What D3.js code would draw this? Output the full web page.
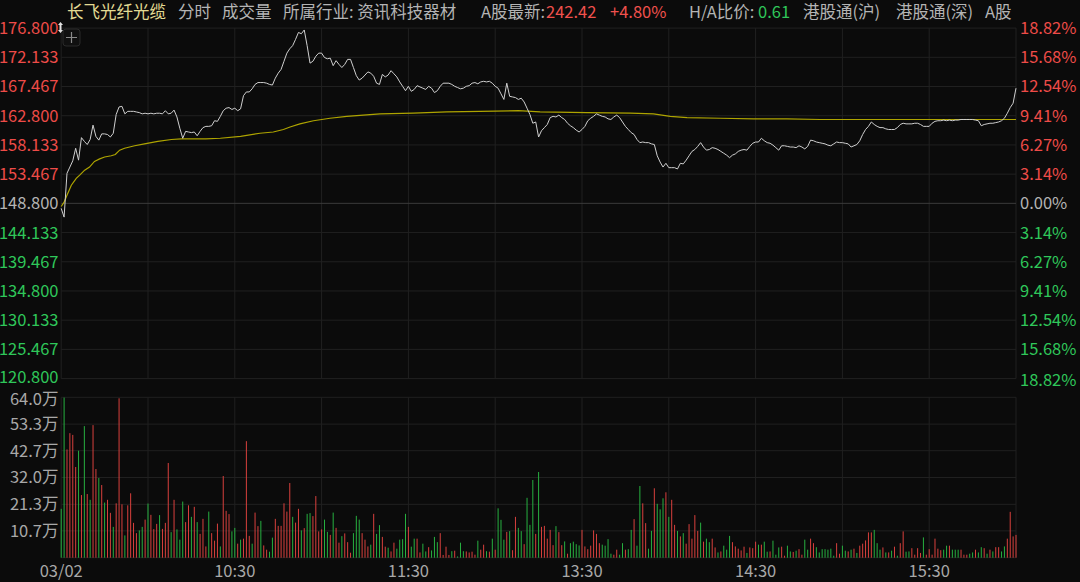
<!DOCTYPE html>
<html><head><meta charset="utf-8">
<script src="https://cdn.jsdelivr.net/npm/d3@7"></script>
<style>
html,body{margin:0;padding:0;background:#0b0b0b;}
svg{display:block;}
text{font-family:"Noto Sans CJK SC","Noto Sans",sans-serif;}
</style></head><body>
<svg id="chart" width="1080" height="582"></svg>
<script>
// ---------- data ----------
const prevClose = 148.8;
const priceTicks = [176.8,172.133,167.467,162.8,158.133,153.467,148.8,144.133,139.467,134.8,130.133,125.467,120.8];
const priceTickLabels = ["176.800","172.133","167.467","162.800","158.133","153.467","148.800","144.133","139.467","134.800","130.133","125.467","120.800"];
const pctTickLabels = ["18.82%","15.68%","12.54%","9.41%","6.27%","3.14%","0.00%","3.14%","6.27%","9.41%","12.54%","15.68%","18.82%"];
const volTicks = [64.0,53.3,42.7,32.0,21.3,10.7];
const volTickLabels = ["64.0万","53.3万","42.7万","32.0万","21.3万","10.7万"];
const timeTickMinutes = [0,60,120,180,240,300];
const timeTickLabels = ["03/02","10:30","11:30","13:30","14:30","15:30"];

// minute-by-minute price (331 points, 9:30-12:00, 13:00-16:00)
const prices = [
148.0,146.6,153.6,154.6,155.6,157.6,155.7,159.3,158.7,158.2,
159.0,161.3,159.5,158.9,159.9,159.9,159.8,159.4,160.0,163.0,
164.2,164.3,163.1,163.5,163.5,163.5,163.4,163.3,163.1,163.2,
163.1,163.2,163.1,163.2,163.2,163.1,163.6,163.1,163.2,163.7,
162.6,160.8,159.2,160.3,160.2,160.1,160.2,159.6,160.3,160.9,
161.1,161.1,161.2,162.0,161.9,162.7,163.6,164.0,164.1,163.8,
164.0,163.6,163.9,166.0,166.6,166.6,167.1,167.8,168.1,168.1,
168.1,168.0,167.8,167.7,168.8,169.6,170.2,171.5,172.8,173.5,
174.0,175.0,176.1,175.9,176.5,174.0,171.2,171.5,172.3,172.8,
172.8,172.1,171.9,172.0,170.8,171.6,171.0,170.5,171.0,171.8,
171.8,170.5,169.2,168.5,168.8,169.3,169.8,169.6,169.1,168.0,
167.8,169.4,169.0,169.3,170.0,169.5,169.0,168.2,167.5,166.8,
167.5,166.7,167.0,167.6,167.4,167.2,167.0,167.5,167.2,166.5,
166.8,167.5,168.0,168.0,168.0,167.8,167.5,167.3,167.1,167.2,
167.5,167.6,168.0,168.1,167.9,168.2,168.3,168.2,168.3,168.0,
167.5,167.2,166.3,165.4,168.0,165.9,165.8,165.7,165.4,165.6,
165.0,164.0,163.0,161.6,161.8,159.4,160.4,160.9,161.4,162.5,
162.7,162.6,162.9,162.5,162.2,161.6,161.2,160.9,160.5,160.2,
160.6,161.1,162.0,162.4,162.7,163.1,162.9,162.7,162.6,162.3,
162.2,162.6,162.9,162.5,161.8,161.1,160.6,160.1,159.8,159.0,
158.5,158.6,158.5,158.5,158.3,158.2,156.4,155.4,154.6,155.2,
154.5,154.5,154.5,154.3,155.2,155.1,155.7,156.4,157.1,157.4,
157.9,158.5,157.8,157.3,157.4,157.7,157.6,157.4,157.1,156.8,
156.5,156.1,156.5,156.7,157.1,157.3,157.4,157.3,157.9,158.4,
158.6,158.6,159.2,158.8,158.5,158.4,158.1,157.7,157.3,158.0,
158.0,157.9,157.8,157.8,157.7,158.0,157.8,157.5,157.9,158.9,
158.8,158.6,158.5,158.4,158.3,158.1,158.0,158.3,158.6,158.5,
158.5,158.4,158.3,157.8,158.0,158.2,158.8,159.8,160.6,161.1,
161.8,161.4,161.1,160.9,160.9,160.7,160.6,160.6,160.6,160.9,
161.4,161.6,161.5,161.5,161.5,161.6,161.6,161.4,161.1,161.1,
161.1,161.6,161.9,162.0,162.0,162.1,162.0,162.1,162.0,162.1,
162.1,162.2,162.2,162.2,162.2,162.2,162.1,162.0,161.2,161.4,
161.5,161.6,161.6,161.7,161.8,162.0,162.4,163.2,164.1,164.8,
167.2];

// average price line, read at these minutes
const avgMinutes = [0,1,2,3.5,5.2,6.4,8.1,9.8,11.5,13.3,15,17.3,18.7,20.2,21.9,25.4,28.8,33.4,38.1,41.5,50,55,62,68.7,73.3,76.8,79.1,82.5,87.2,92.9,98.7,104.4,110.2,121.7,133.3,144.8,158,165.5,181.7,196.7,204.7,210.5,216.3,227.8,239.3,250.8,262.3,330];
const avgValues  = [148.3,149.0,150.1,151.7,152.8,153.3,154.1,154.6,155.5,155.9,156.2,156.4,156.6,157.3,157.6,158.0,158.3,158.7,159.0,159.1,159.1,159.2,159.5,160.0,160.2,160.6,161.0,161.5,162.0,162.4,162.7,162.9,163.1,163.2,163.4,163.5,163.6,163.4,163.3,163.2,163.1,162.7,162.5,162.4,162.3,162.3,162.2,162.2];

// volume per minute, in 万
const volumes = [
19.5,63.9,43.2,49.7,49.0,36.2,42.7,25.0,52.5,25.4,
23.1,52.9,35.4,31.8,29.0,22.0,23.1,17.9,12.3,21.7,
63.6,21.3,8.9,20.9,25.7,13.9,9.8,10.9,12.3,15.2,
21.6,17.1,11.4,13.5,17.0,11.5,13.9,37.8,10.2,23.1,
11.3,7.2,22.4,14.2,20.9,16.3,20.3,14.2,9.5,15.5,
4.5,18.4,9.8,6.8,13.6,4.5,32.6,18.7,17.4,10.5,
11.9,5.6,7.2,7.6,46.5,8.7,5.6,18.0,12.6,14.7,
4.9,3.2,2.4,8.0,15.5,12.7,12.7,21.7,18.4,29.8,
16.3,14.0,19.5,10.9,11.8,17.5,17.8,16.6,24.6,10.5,
11.3,15.2,10.3,9.1,18.0,11.9,6.0,8.6,9.7,6.2,
2.0,9.8,16.7,15.2,9.8,7.2,4.5,5.2,17.5,9.5,
13.0,8.3,4.4,4.0,2.5,6.0,3.6,7.2,7.4,17.5,
12.3,4.4,7.6,7.6,2.1,5.6,2.5,4.2,2.9,8.3,
6.2,9.8,1.1,4.4,1.1,2.6,2.8,0.5,6.0,2.6,
2.5,2.1,2.4,1.2,6.8,3.2,5.2,2.6,2.4,7.6,
3.2,19.7,15.1,7.2,10.3,10.6,3.0,16.3,11.9,10.6,
5.4,23.9,13.1,31.0,9.5,34.2,12.3,12.7,7.6,11.1,
5.0,12.6,10.2,5.0,6.5,1.6,5.8,6.4,5.4,4.9,
11.1,4.5,3.4,4.8,10.9,9.5,5.8,5.2,4.8,7.4,
1.6,1.2,3.2,1.2,5.8,3.2,3.4,11.1,15.4,4.8,
28.6,21.7,13.8,3.6,10.7,27.7,21.5,19.3,23.7,26.1,
16.3,23.1,13.1,10.7,8.5,9.8,5.6,13.4,7.6,17.0,
10.7,14.0,6.4,7.6,6.2,7.6,4.1,2.1,2.5,4.8,
3.2,8.7,6.2,4.5,3.6,2.9,4.4,1.9,4.1,3.8,
6.4,5.2,5.2,6.4,2.4,2.5,6.8,1.2,4.1,4.4,
0.8,4.8,2.5,2.3,2.8,3.4,1.2,7.2,3.2,7.6,
5.8,4.2,2.1,3.4,3.4,3.2,3.6,0.8,5.8,1.6,
4.8,2.8,2.5,3.2,3.6,1.9,4.8,5.6,6.9,10.1,
10.1,11.1,5.8,3.2,4.1,2.1,2.1,2.8,4.4,0.8,
5.8,10.5,2.4,2.5,3.8,1.2,3.8,1.9,8.1,1.2,
3.4,1.2,7.6,3.6,3.0,3.2,4.8,4.8,3.2,3.2,
3.2,3.2,1.2,1.2,1.6,2.1,3.2,2.1,4.2,3.8,
1.6,3.2,2.5,4.2,4.2,2.5,4.5,7.6,18.3,8.5,
9.1];
// R = up (red), G = down (green)
const volDirections = (
"GGRRRRGRGR"+"GRRGRGRRGR"+"RRGRRRRGGR"+"GRRRGRRRGR"+"GGGRRGRGRR"+
"RGRRRGRRRG"+"GRGRRRGRRG"+"RRGGRRRRRR"+"GRRGRGGRRR"+"RGGRGRRGRR"+
"RGGGRRRGRG"+"GRRGRRGGGG"+"RGGRRGGRGG"+"GRRRRGRGGG"+"RRRRGRRGRG"+
"RGGGRGRRGG"+"RGGGRGRRRR"+"RGRRGRGGGG"+"RRRRRRRGGG"+"GRRGGRGGRG"+
"GRRGGRGGGR"+"GRRGRGRRRR"+"RGRGGRRGRG"+"GGRRRRRGRR"+"RGRGGRGGGR"+
"RGGRGRRGGR"+"RGGGGGGGRR"+"GGRGRGRRRR"+"RGGGRGRGRG"+"RRGGRRRRGR"+
"RRRRRGGRGG"+"GRRRGGRGGR"+"GRGRRGGRRR"+"R").split("");

// header
const headerItems = [
  {t:"长飞光纤光缆", x:67, c:"#e3db93"},
  {t:"分时", x:178, c:"#b4b4b4"},
  {t:"成交量", x:222, c:"#b4b4b4"},
  {t:"所属行业: 资讯科技器材", x:283, c:"#b4b4b4"},
  {t:"A股最新:", x:481, c:"#b4b4b4"},
  {t:"242.42", x:546, c:"#f0514d"},
  {t:"+4.80%", x:610, c:"#f0514d"},
  {t:"H/A比价:", x:689, c:"#b4b4b4"},
  {t:"0.61", x:758, c:"#2fc75a"},
  {t:"港股通(沪)", x:803, c:"#b4b4b4"},
  {t:"港股通(深)", x:896, c:"#b4b4b4"},
  {t:"A股", x:985, c:"#b4b4b4"}
];

// ---------- drawing ----------
const RED = "#ee4b48", GREEN = "#2fc75a", GRAY = "#b4b4b4";
const FS = 16.5;
const svg = d3.select("#chart");
svg.append("rect").attr("width",1080).attr("height",582).attr("fill","#0b0b0b");

const x = d3.scaleLinear().domain([0,330]).range([61.2,1016.0]);
const yP = d3.scaleLinear().domain([120.8,176.8]).range([378.6,28.1]);
const yV = d3.scaleLinear().domain([0,64]).range([557.7,397.3]);

const grid = svg.append("g");
const vlines = d3.range(0,331,30);
grid.selectAll("line.vp").data(vlines).join("line")
  .attr("x1",d=>x(d)).attr("x2",d=>x(d)).attr("y1",yP(176.8)).attr("y2",yP(120.8))
  .attr("stroke","#202020").attr("stroke-width",1);
grid.selectAll("line.vv").data(vlines).join("line")
  .attr("x1",d=>x(d)).attr("x2",d=>x(d)).attr("y1",yV(64)).attr("y2",yV(0))
  .attr("stroke","#202020").attr("stroke-width",1);
grid.selectAll("line.hp").data(priceTicks).join("line")
  .attr("x1",x(0)).attr("x2",x(330)).attr("y1",d=>yP(d)).attr("y2",d=>yP(d))
  .attr("stroke",d=>d===prevClose?"#3a3a3a":"#202020").attr("stroke-width",1);
grid.selectAll("line.hv").data(volTicks.concat([0])).join("line")
  .attr("x1",x(0)).attr("x2",x(330)).attr("y1",d=>yV(d)).attr("y2",d=>yV(d))
  .attr("stroke","#202020").attr("stroke-width",1);

const colorFor = d=>d>prevClose+0.001?RED:(d<prevClose-0.001?GREEN:GRAY);
// left price labels
svg.append("g").selectAll("text").data(priceTicks).join("text")
  .attr("x",58.5).attr("y",(d,i)=>yP(d)+(i===priceTicks.length-1?-2:0)).attr("dy","0.36em").attr("text-anchor","end")
  .attr("font-size",FS).attr("fill",colorFor)
  .text((d,i)=>priceTickLabels[i]);
// right pct labels
svg.append("g").selectAll("text").data(priceTicks).join("text")
  .attr("x",1020).attr("y",(d,i)=>yP(d)+(i===priceTicks.length-1?1:0)).attr("dy","0.36em").attr("text-anchor","start")
  .attr("font-size",FS).attr("fill",colorFor)
  .text((d,i)=>pctTickLabels[i]);
// volume labels
svg.append("g").selectAll("text").data(volTicks).join("text")
  .attr("x",58.5).attr("y",(d,i)=>yV(d)+(i===0?1.5:0)).attr("dy","0.36em").attr("text-anchor","end")
  .attr("font-size",FS).attr("fill","#a8a8a8")
  .text((d,i)=>volTickLabels[i]);
// time labels
svg.append("g").selectAll("text").data(timeTickMinutes).join("text")
  .attr("x",d=>x(d)).attr("y",571).attr("dy","0.36em").attr("text-anchor","middle")
  .attr("font-size",FS).attr("fill","#a8a8a8")
  .text((d,i)=>timeTickLabels[i]);

// volume bars
svg.append("g").selectAll("rect").data(volumes).join("rect")
  .attr("x",(d,i)=>x(i)-0.5).attr("width",1)
  .attr("y",d=>yV(d)).attr("height",d=>yV(0)-yV(d))
  .attr("fill",(d,i)=>volDirections[i]==="R"?"#d8403d":"#27b040");

// avg line
const avgData = avgMinutes.map((m,i)=>[m,avgValues[i]]);
svg.append("path").datum(avgData)
  .attr("d",d3.line().x(d=>x(d[0])).y(d=>yP(d[1])))
  .attr("fill","none").attr("stroke","#aea400").attr("stroke-width",1.2);
// price line
svg.append("path").datum(prices)
  .attr("d",d3.line().x((d,i)=>x(i)).y(d=>yP(d)))
  .attr("fill","none").attr("stroke","#cfcfcf").attr("stroke-width",1);

// header
svg.append("g").selectAll("text").data(headerItems).join("text")
  .attr("x",d=>d.x).attr("y",12).attr("dy","0.36em").attr("font-size",FS)
  .attr("fill",d=>d.c).text(d=>d.t);

// small icons top-left
const ic = svg.append("g");
ic.append("rect").attr("x",63).attr("y",29).attr("width",17).attr("height",17).attr("rx",3)
  .attr("fill","#101010").attr("stroke","#2a2a2a");
ic.append("path").attr("d","M71.5,32 V43 M66,37.5 H77").attr("stroke","#8a8a8a").attr("stroke-width",1.2);
ic.append("path").attr("d","M58,25 L60.5,22 L63,25 Z M58,30 L60.5,33 L63,30 Z")
  .attr("fill","#e0e0e0");
ic.append("rect").attr("x",59.5).attr("y",25).attr("width",2).attr("height",5).attr("fill","#e0e0e0");
</script>
</body></html>
